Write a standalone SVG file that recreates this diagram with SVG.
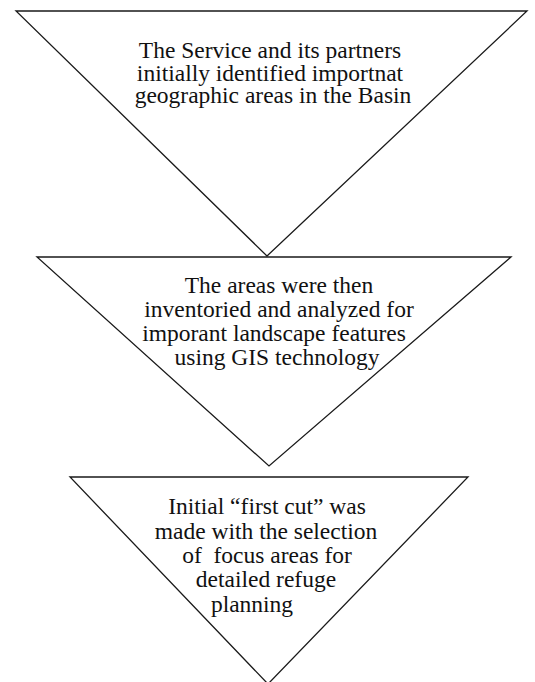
<svg xmlns="http://www.w3.org/2000/svg" width="535" height="682" viewBox="0 0 535 682">
<style>
.tri{fill:#fff;stroke:#1a1a1a;stroke-width:1.3;stroke-linejoin:miter}
.t{font-family:"Liberation Serif","Times New Roman",serif;font-size:23.5px;fill:#111;text-anchor:middle}
</style>
<rect width="535" height="682" fill="#fff"/>
<g id="connectors"></g>
<g id="step1">
<polygon class="tri" points="16,11 527,11 267,256"/>
<text class="t" x="270" y="58">The Service and its partners</text>
<text class="t" x="270" y="81">initially identified importnat</text>
<text class="t" x="273" y="103">geographic areas in the Basin</text>
</g>
<g id="step2">
<polygon class="tri" points="37,257 511,257 269,466"/>
<text class="t" x="279" y="293">The areas were then</text>
<text class="t" x="279" y="317">inventoried and analyzed for</text>
<text class="t" x="274" y="341">imporant landscape features</text>
<text class="t" x="277" y="365">using GIS technology</text>
</g>
<g id="step3">
<polygon class="tri" points="70,477 468,477 268,684"/>
<text class="t" x="267" y="514">Initial “first cut” was</text>
<text class="t" x="266" y="539">made with the selection</text>
<text class="t" x="267" y="563" xml:space="preserve">of  focus areas for</text>
<text class="t" x="266" y="587">detailed refuge</text>
<text class="t" x="252" y="612">planning</text>
</g>
</svg>
